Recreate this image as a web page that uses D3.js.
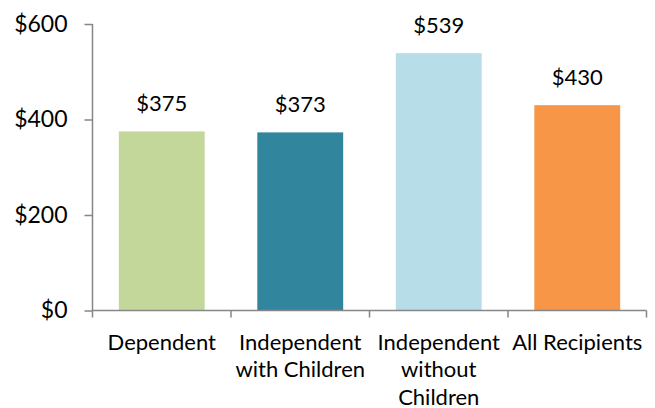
<!DOCTYPE html>
<html><head><meta charset="utf-8">
<script src="https://cdn.jsdelivr.net/npm/d3@7"></script>
<style>body{margin:0;background:#fff}svg{display:block}text{font-family:Lato,"Open Sans",sans-serif;fill:#000}</style>
</head><body>
<svg id="c" width="655" height="408"></svg>
<script>
const categories = [["Dependent"],["Independent","with Children"],["Independent","without","Children"],["All Recipients"]];
const values = [375, 373, 539, 430];
const colors = ["#C4D79B","#31859C","#B7DEE8","#F79646"];
const yTicks = [0, 200, 400, 600];

(function(){
const svg = d3.select("#c");
const mLeft = 92.5, mRight = 646.5, mTop = 24, mBottom = 310.5;
const keys = categories.map((c,i)=>i);
const x = d3.scaleBand().domain(keys).range([mLeft, mRight]).paddingInner(0.38).paddingOuter(0.19);
const y = d3.scaleLinear().domain([0, 600]).range([mBottom, mTop]);
const axisColor = "#868686";

svg.selectAll("rect.bar").data(values).join("rect")
  .attr("x",(d,i)=>x(i)).attr("width",x.bandwidth())
  .attr("y",d=>y(d)).attr("height",d=>y(0)-y(d))
  .attr("fill",(d,i)=>colors[i]);

const ya = svg.append("g").attr("transform",`translate(${mLeft},0)`)
  .call(d3.axisLeft(y).tickValues(yTicks).tickSize(8).tickPadding(17).tickFormat(d=>"$"+d));
ya.select(".domain").attr("stroke",axisColor).attr("stroke-width",1.5).attr("d",`M0,${mTop}V${mBottom}`);
ya.selectAll(".tick line").attr("stroke",axisColor).attr("stroke-width",1.5);
ya.selectAll(".tick text").attr("font-size",23).attr("font-family","Lato").attr("fill","#000");

const step = (mRight-mLeft)/categories.length;
const xa = svg.append("g");
xa.append("line").attr("x1",mLeft).attr("x2",mRight).attr("y1",mBottom).attr("y2",mBottom).attr("stroke",axisColor).attr("stroke-width",1.5);
xa.selectAll("line.t").data(d3.range(categories.length+1)).join("line")
  .attr("x1",i=>mLeft+i*step).attr("x2",i=>mLeft+i*step).attr("y1",mBottom).attr("y2",mBottom+7)
  .attr("stroke",axisColor).attr("stroke-width",1.5);
xa.selectAll("text.cat").data(categories).join("text")
  .attr("text-anchor","middle").attr("font-size",22)
  .attr("transform",(d,i)=>`translate(${x(i)+x.bandwidth()/2},${mBottom+39})`)
  .each(function(d){
    d3.select(this).selectAll("tspan").data(d).join("tspan")
      .attr("x",0).attr("y",(t,j)=>j*27.5).text(t=>t);
  });

svg.selectAll("text.val").data(values).join("text")
  .attr("text-anchor","middle").attr("font-size",22)
  .attr("x",(d,i)=>x(i)+x.bandwidth()/2).attr("y",d=>y(d)-20)
  .text(d=>"$"+d);
})();
</script>
</body></html>
